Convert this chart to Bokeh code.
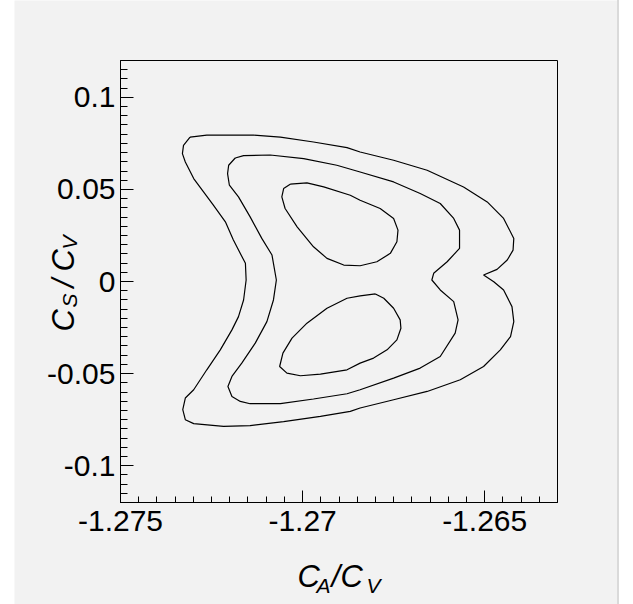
import numpy as np
from bokeh.plotting import figure
from bokeh.layouts import row
from bokeh.models import FixedTicker, Label, Range1d, Spacer, BoxAnnotation
from bokeh.embed import file_html
from bokeh.resources import INLINE

# ---------------- data ----------------
x_ticks = [-1.275, -1.27, -1.265]
x_tick_labels = ["-1.275", "-1.27", "-1.265"]
y_ticks = [-0.1, -0.05, 0.0, 0.05, 0.1]
y_tick_labels = ["-0.1", "-0.05", "0", "0.05", "0.1"]

# outer contour
outer_x = [-1.27309, -1.27263, -1.27135, -1.27061, -1.26970, -1.26878, -1.26842,
           -1.26750, -1.26658, -1.26558, -1.26493, -1.26448, -1.26420, -1.26422,
           -1.26438, -1.26466, -1.26503, -1.26475, -1.26448, -1.26425, -1.26420,
           -1.26429, -1.26457, -1.26503, -1.26567, -1.26658, -1.26750, -1.26842,
           -1.26869, -1.26951, -1.27052, -1.27144, -1.27217, -1.27299, -1.27322,
           -1.27329, -1.27322, -1.27299, -1.27263, -1.27226, -1.27194, -1.27176,
           -1.27162, -1.27155, -1.27157, -1.27190, -1.27212, -1.27245, -1.27272,
           -1.27299, -1.27322, -1.27330, -1.27327]
outer_y = [0.07844, 0.07952, 0.07952, 0.07844, 0.07573, 0.07270, 0.07031,
           0.06582, 0.06040, 0.05135, 0.04323, 0.03424, 0.02340, 0.01706,
           0.01165, 0.00661, 0.00352, -0.00011, -0.00460, -0.01365, -0.02178,
           -0.02990, -0.03711, -0.04615, -0.05336, -0.05970, -0.06419, -0.06869,
           -0.07053, -0.07324, -0.07611, -0.07828, -0.07866, -0.07719, -0.07503,
           -0.06961, -0.06327, -0.05878, -0.04794, -0.03711, -0.02627, -0.01907,
           -0.01002, 0.00081, 0.00986, 0.02248, 0.03239, 0.04144, 0.04865,
           0.05590, 0.06490, 0.06945, 0.07394]

# middle contour
middle_x = [-1.27185, -1.27162, -1.27089, -1.26997, -1.26906, -1.26842, -1.26750,
            -1.26677, -1.26622, -1.26585, -1.26569, -1.26569, -1.26603, -1.26640,
            -1.26645, -1.26622, -1.26585, -1.26573, -1.26581, -1.26622, -1.26677,
            -1.26750, -1.26842, -1.26878, -1.26970, -1.27061, -1.27144, -1.27171,
            -1.27194, -1.27205, -1.27194, -1.27167, -1.27130, -1.27098, -1.27080,
            -1.27072, -1.27084, -1.27112, -1.27144, -1.27176, -1.27201, -1.27206,
            -1.27203]
middle_y = [0.06706, 0.06836, 0.06869, 0.06674, 0.06311, 0.05948, 0.05406,
            0.04778, 0.04236, 0.03424, 0.02790, 0.01798, 0.01073, 0.00444,
            0.00081, -0.00460, -0.01094, -0.02086, -0.02806, -0.04074, -0.04702,
            -0.05244, -0.05878, -0.06094, -0.06381, -0.06636, -0.06636, -0.06511,
            -0.06240, -0.05699, -0.05157, -0.04431, -0.03348, -0.02178, -0.01002,
            0.00081, 0.01436, 0.02340, 0.03510, 0.04594, 0.05228, 0.05861,
            0.06311]

# inner contour, upper island
inner_up_x = [-1.27034, -1.26988, -1.26942, -1.26869, -1.26842, -1.26787, -1.26750,
              -1.26738, -1.26741, -1.26759, -1.26796, -1.26842, -1.26887, -1.26933,
              -1.26970, -1.27015, -1.27048, -1.27057, -1.27052]
inner_up_y = [0.05282, 0.05352, 0.05135, 0.04686, 0.04415, 0.03965, 0.03424,
              0.02790, 0.02156, 0.01528, 0.01073, 0.00856, 0.00894, 0.01257,
              0.01885, 0.02969, 0.03965, 0.04594, 0.05049]

# inner contour, lower island
inner_lo_x = [-1.26800, -1.26777, -1.26750, -1.26732, -1.26730, -1.26741, -1.26768,
              -1.26805, -1.26842, -1.26878, -1.26951, -1.27006, -1.27043, -1.27063,
              -1.27054, -1.27029, -1.26988, -1.26933, -1.26878, -1.26842]
inner_lo_y = [-0.00677, -0.00910, -0.01452, -0.02086, -0.02535, -0.03169, -0.03711,
              -0.04160, -0.04431, -0.04794, -0.05027, -0.05119, -0.04973, -0.04615,
              -0.03889, -0.03077, -0.02264, -0.01452, -0.00910, -0.00785]

# ---------------- layout / styling ----------------
BG = "#f2f2f2"
FONT = "Liberation Sans"
X0, X1 = -1.275, -1.263          # axis extent
Y0, Y1 = -0.12, 0.12

LEFT_PAD = 14                    # white strip left of the canvas (page px)
CANVAS_W, CANVAS_H = 603, 604
FRAME_L, FRAME_R, FRAME_T, FRAME_B = 120, 557, 60, 502   # axis box, page px

def xd(px):
    """page pixel column -> data x"""
    return X0 + (px - FRAME_L) / (FRAME_R - FRAME_L) * (X1 - X0)

def yd(py):
    """page pixel row -> data y"""
    return Y1 - (py - FRAME_T) / (FRAME_B - FRAME_T) * (Y1 - Y0)

# the plotting frame fills the whole canvas; axes are pinned to the box edges
p = figure(width=CANVAS_W, height=CANVAS_H,
           x_range=Range1d(xd(LEFT_PAD), xd(LEFT_PAD + CANVAS_W)),
           y_range=Range1d(yd(CANVAS_H), yd(0)),
           output_backend="svg", toolbar_location=None,
           min_border=0, min_border_left=0, min_border_right=0,
           min_border_top=0, min_border_bottom=0)
p.border_fill_color = BG
p.background_fill_color = BG
p.outline_line_color = None
p.xgrid.visible = False
p.ygrid.visible = False

p.add_layout(BoxAnnotation(left=X0, right=X1, bottom=Y0, top=Y1,
                           fill_color=None, fill_alpha=0,
                           line_color="black", line_width=1, line_alpha=1,
                           level="underlay"))

x_minor = list(np.round(np.arange(X0, X1 + 0.00005, 0.0005), 5))
y_minor = list(np.round(np.arange(Y0, Y1 + 0.00001, 0.005), 4))

xa = p.xaxis[0]
xa.fixed_location = Y0
xa.bounds = (X0, X1)
xa.ticker = FixedTicker(ticks=x_ticks, minor_ticks=x_minor)
xa.major_label_overrides = dict(zip(x_ticks, x_tick_labels))
xa.major_tick_in = 12
xa.major_tick_out = 0
xa.minor_tick_in = 6
xa.minor_tick_out = 0
xa.major_label_standoff = 8

ya = p.yaxis[0]
ya.fixed_location = X0
ya.bounds = (Y0, Y1)
ya.ticker = FixedTicker(ticks=y_ticks, minor_ticks=y_minor)
ya.major_label_overrides = dict(zip(y_ticks, y_tick_labels))
ya.major_tick_in = 13
ya.major_tick_out = 0
ya.minor_tick_in = 7
ya.minor_tick_out = 0
ya.major_label_standoff = 5

for ax in (xa, ya):
    ax.axis_line_color = "black"
    ax.major_tick_line_color = "black"
    ax.minor_tick_line_color = "black"
    ax.major_label_text_font = FONT
    ax.major_label_text_font_size = "30px"
    ax.major_label_text_color = "black"

curves = [(outer_x, outer_y), (middle_x, middle_y),
          (inner_up_x, inner_up_y), (inner_lo_x, inner_lo_y)]
for cx, cy in curves:
    p.line(list(cx) + [cx[0]], list(cy) + [cy[0]], line_color="black", line_width=1.2)

# axis titles built from pieces so that subscripts are real text
def piece(txt, px, py, size, angle=0.0):
    p.add_layout(Label(x=xd(px), y=yd(py), text=txt,
                       text_font=FONT, text_font_style="italic",
                       text_font_size=size, text_color="black",
                       text_align="left", text_baseline="alphabetic",
                       angle=angle))

# x title  C_A / C_V
piece("C", 297, 576, "31px")
piece("A", 316, 585, "21px")
piece("/", 331, 576, "31px")
piece("C", 340, 576, "31px")
piece("V", 366, 585, "21px")

# y title  C_S / C_V (rotated, reading upwards)
r = np.pi / 2
piece("C", 62.5, 331, "31px", r)
piece("S", 69, 307, "21px", r)
piece("/", 62.5, 287, "31px", r)
piece("C", 62.5, 271, "31px", r)
piece("V", 69, 249, "21px", r)

layout = row(Spacer(width=LEFT_PAD, height=CANVAS_H), p,
             Spacer(width=2, height=CANVAS_H, styles={"background-color": "#dadada"}))

open("out.html", "w").write(file_html(layout, INLINE))
